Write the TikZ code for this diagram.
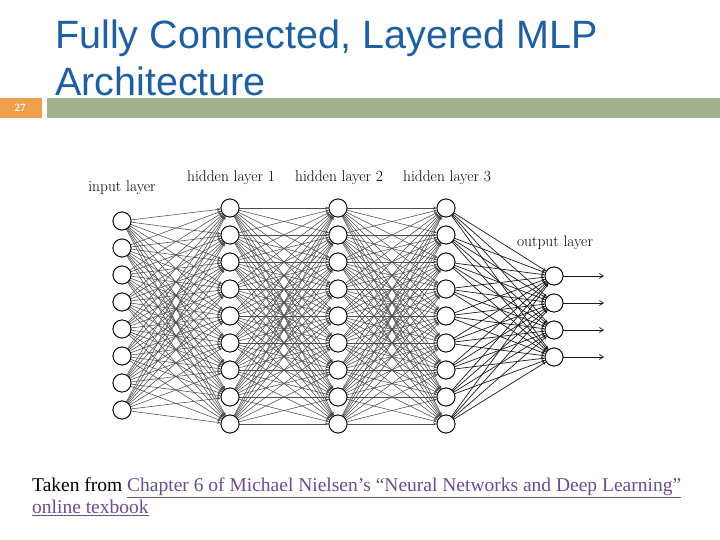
\documentclass[tikz,border=0pt]{standalone}
\usepackage{fontspec}
\setmainfont{Latin Modern Roman}
\newfontfamily\titlefont{Liberation Sans}
\newfontfamily\capfont{Liberation Serif}
\usetikzlibrary{arrows.meta}
\definecolor{titleblue}{HTML}{1F5F9F}
\definecolor{barorange}{HTML}{F0A04B}
\definecolor{bargreen}{HTML}{A3B18F}
\definecolor{linkpurple}{HTML}{6B4C8C}
\begin{document}
\begin{tikzpicture}[x=1pt,y=-1pt,
  neuron/.style={circle,draw,thick,fill=white,minimum size=18pt,inner sep=0pt},
  conn/.style={draw=black!70,line width=0.55pt,-{Stealth[length=3.5pt,width=3pt]}},
  connout/.style={draw=black!90,line width=0.7pt,-{Stealth[length=3.5pt,width=3pt]}},
  lbl/.style={font=\fontsize{15.5}{17}\selectfont}]
\useasboundingbox (0,0) rectangle (720,540);
\fill[white] (0,0) rectangle (720,540);
\node[anchor=west,text=titleblue,font=\titlefont\fontsize{39.5}{47}\selectfont,align=left,inner sep=0pt] (title) at (55,58) {Fully Connected, Layered MLP\\Architecture};
\fill[barorange] (0,98) rectangle (42,118);
\fill[bargreen] (47,98) rectangle (720,118);
\node[text=white,font=\capfont\bfseries\fontsize{11}{12}\selectfont] (pg) at (20,108) {27};
\foreach \i in {1,...,8} \node[neuron] (I\i) at (122,{221+27*(\i-1)}) {};
\foreach \l/\x in {A/230,B/338,C/446}
  \foreach \i in {1,...,9} \node[neuron] (\l\i) at (\x,{208+27*(\i-1)}) {};
\foreach \i in {1,...,4} \node[neuron] (O\i) at (554,{276+27*(\i-1)}) {};
\foreach \i in {1,...,8} \foreach \j in {1,...,9} \draw[conn] (I\i) -- (A\j);
\foreach \i in {1,...,9} \foreach \j in {1,...,9} {\draw[conn] (A\i) -- (B\j); \draw[conn] (B\i) -- (C\j);}
\foreach \i in {1,...,9} \foreach \j in {1,...,4} \draw[connout] (C\i) -- (O\j);
\foreach \i in {1,...,4} {\coordinate (E\i) at (604,{276+27*(\i-1)}); \draw[connout,-{Straight Barb[length=4pt,width=5pt]}] (O\i) -- (E\i);}
\foreach \i in {1,...,8} \node[neuron] at (I\i) {};
\foreach \l in {A,B,C} \foreach \i in {1,...,9} \node[neuron] at (\l\i) {};
\foreach \i in {1,...,4} \node[neuron] at (O\i) {};
\node[lbl] (li) at (122,188) {input layer};
\node[lbl] (l1) at (231,178) {hidden layer 1};
\node[lbl] (l2) at (339,178) {hidden layer 2};
\node[lbl] (l3) at (447,178) {hidden layer 3};
\node[lbl] (lo) at (555,243) {output layer};
\node[anchor=north west,align=left,font=\capfont\fontsize{19.5}{22}\selectfont,inner sep=0pt] (cap) at (32,478)
 {Taken from \textcolor{linkpurple}{\underline{Chapter 6 of Michael Nielsen’s “Neural Networks and Deep Learning”}}\\
 \textcolor{linkpurple}{\underline{online texbook}}};
\end{tikzpicture}
\end{document}
